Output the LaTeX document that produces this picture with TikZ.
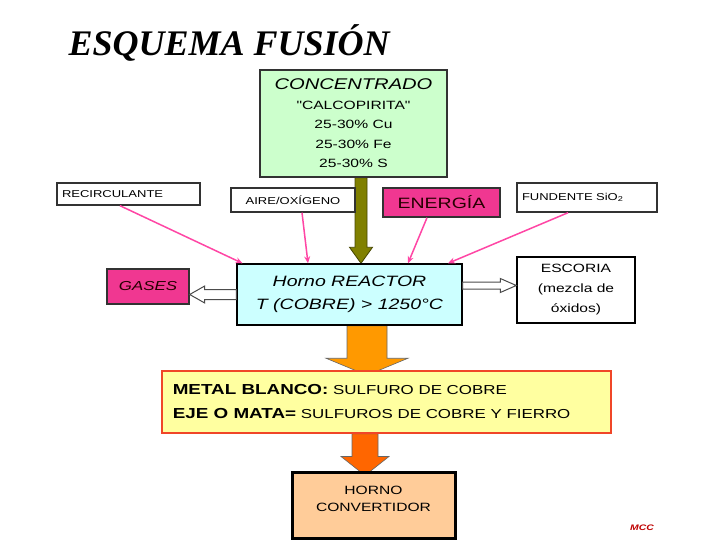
\documentclass[tikz,border=0pt]{standalone}
\usepackage{fontspec}
\setmainfont{Liberation Sans}
\newfontfamily\comic{Liberation Sans}[FakeStretch=1.3]
\newfontfamily\titlefont{Liberation Serif}
\usepackage{tikz}
\usetikzlibrary{arrows.meta, positioning, calc, backgrounds}
\definecolor{concgreen}{RGB}{204, 255, 204}
\definecolor{reactcyan}{RGB}{204, 255, 255}
\definecolor{hotpink}{RGB}{240, 55, 145}
\definecolor{linkpink}{RGB}{255, 70, 165}
\definecolor{arrowolive}{RGB}{128, 128, 0}
\definecolor{oliveedge}{RGB}{70, 70, 0}
\definecolor{melt}{RGB}{255, 153, 0}
\definecolor{meltdark}{RGB}{255, 102, 0}
\definecolor{mattefill}{RGB}{255, 255, 160}
\definecolor{matteedge}{RGB}{240, 70, 40}
\definecolor{convfill}{RGB}{255, 204, 153}
\definecolor{boxedge}{RGB}{50, 50, 50}

\tikzset{
    stagebox/.style={draw=boxedge, line width=1.4pt, inner sep=2pt},
    feedbox/.style={stagebox, fill=white, font=\comic\fontsize{10}{12}\selectfont},
    pinkbox/.style={stagebox, fill=hotpink, text=black!85!red},
    feedlink/.style={draw=linkpink, line width=1.5pt, -{Stealth[length=7pt, width=6pt]}},
    hollowarrow/.style={draw=black!70, fill=white, line width=1pt}
}

% block arrows: style, from, to, half shaft, half head, head length
\newcommand{\blockdown}[6]{%
    \draw[#1] ($(#2)+(-#4,0)$) -- ($(#3)+(-#4,-#6)$) -- ($(#3)+(-#5,-#6)$) -- (#3)
        -- ($(#3)+(#5,-#6)$) -- ($(#3)+(#4,-#6)$) -- ($(#2)+(#4,0)$) -- cycle;}
\newcommand{\blockside}[6]{%
    \draw[#1] ($(#2)+(0,-#4)$) -- ($(#3)+({-(#6)},-#4)$) -- ($(#3)+({-(#6)},-#5)$) -- (#3)
        -- ($(#3)+({-(#6)},#5)$) -- ($(#3)+({-(#6)},#4)$) -- ($(#2)+(0,#4)$) -- cycle;}

\begin{document}
\begin{tikzpicture}[x=1pt, y=-1pt]
    \useasboundingbox (0,0) rectangle (720,540);

    \node[anchor=base west, font=\titlefont\bfseries\itshape\fontsize{36}{36}\selectfont] (title) at (65,56) {ESQUEMA FUSIÓN};

    % feed
    \node[
        stagebox,
        fill=concgreen,
        minimum width=187pt,
        minimum height=107pt,
        align=center,
        font=\comic\fontsize{12}{19.5}\selectfont
    ] (conc) at (353.5,123.5) {{\itshape\fontsize{15.5}{19.5}\selectfont CONCENTRADO}\\ "CALCOPIRITA"\\ 25-30\% Cu\\ 25-30\% Fe\\ 25-30\% S};

    \node[feedbox, minimum width=143pt, minimum height=22pt, text width=133pt, align=left] (recirc) at (128.5,194) {RECIRCULANTE};
    \node[feedbox, minimum width=124pt, minimum height=24pt] (aire) at (293,200) {AIRE/OXÍGENO};
    \node[pinkbox, minimum width=117pt, minimum height=29pt, font=\comic\fontsize{15}{15}\selectfont] (energia) at (441.5,202.5) {ENERGÍA};
    \node[feedbox, minimum width=140pt, minimum height=29pt, text width=130pt, align=left] (fundente) at (587,197.5) {FUNDENTE SiO\textsubscript{2}};

    % furnace and products
    \node[
        stagebox,
        draw=black,
        fill=reactcyan,
        minimum width=225pt,
        minimum height=61pt,
        align=center,
        font=\comic\itshape\fontsize{15}{23}\selectfont
    ] (reactor) at (349.5,294.5) {Horno REACTOR\\ T (COBRE) > 1250°C};

    \node[pinkbox, minimum width=82pt, minimum height=35pt, font=\comic\itshape\fontsize{13}{13}\selectfont] (gases) at (148,286.5) {GASES};
    \node[stagebox, draw=black, fill=white, minimum width=118pt, minimum height=66pt, align=center,
        font=\comic\fontsize{12}{20}\selectfont] (escoria) at (576,290) {ESCORIA\\ (mezcla de\\ óxidos)};

    \node[draw=matteedge, line width=1.5pt, fill=mattefill, minimum width=449pt, minimum height=62pt] (mata) at (386.5,402) {};
    \node[anchor=west, align=left, font=\comic\fontsize{13}{24}\selectfont] (matatext) at ([xshift=8pt]mata.west)
        {{\bfseries\fontsize{14.5}{24}\selectfont METAL BLANCO:} SULFURO DE COBRE\\ {\bfseries\fontsize{14.5}{24}\selectfont EJE O MATA=} SULFUROS DE COBRE Y FIERRO};

    \node[draw=black, line width=3pt, fill=convfill, minimum width=163pt, minimum height=66pt, align=center,
        font=\comic\fontsize{12}{17}\selectfont] (conv) at (373.5,505) {HORNO\\ CONVERTIDOR\\[-5pt]\mbox{}};

    \node[font=\comic\bfseries\itshape\fontsize{8}{8}\selectfont, text=red!75!black] (mcc) at (642,528) {MCC};

    % block arrows behind the boxes
    \coordinate (oa) at ([xshift=7.5pt]conc.south);
    \coordinate (ob) at (oa |- reactor.north);
    \coordinate (ma) at ([xshift=17.5pt]reactor.south);
    \coordinate (mb) at ([yshift=-5pt]ma |- mata.north);
    \coordinate (ca) at ([xshift=-21.5pt]mata.south);
    \coordinate (cb) at ([yshift=-5pt]ca |- conv.north);
    \begin{scope}[on background layer]
        \fill[white] (0,0) rectangle (720,540);
        \blockdown{fill=arrowolive, draw=oliveedge, line width=0.8pt}{oa}{ob}{6}{11.5}{16}
        \blockdown{fill=melt, draw=black!60, line width=0.6pt}{ma}{mb}{20}{41}{17}
        \blockdown{fill=meltdark, draw=black!60, line width=0.6pt}{ca}{cb}{13}{24}{19}
    \end{scope}

    % hollow outlets
    \coordinate (ga) at (reactor.west);
    \coordinate (gb) at (gases.east |- ga);
    \blockside{hollowarrow}{ga}{gb}{5}{8.5}{-15}
    \coordinate (ea) at ([yshift=9pt]reactor.east);
    \coordinate (eb) at (escoria.west |- ea);
    \blockside{hollowarrow}{ea}{eb}{3.5}{7}{16}

    % inputs
    \draw[feedlink] ([xshift=-8.5pt]recirc.south) -- ([xshift=-107pt]reactor.north);
    \draw[feedlink] ([xshift=9pt]aire.south) -- ([xshift=-41.5pt]reactor.north);
    \draw[feedlink] ([xshift=-14.5pt]energia.south) -- ([xshift=58.5pt]reactor.north);
    \draw[feedlink] ([xshift=-19pt]fundente.south) -- ([xshift=98.5pt]reactor.north);
\end{tikzpicture}
\end{document}
